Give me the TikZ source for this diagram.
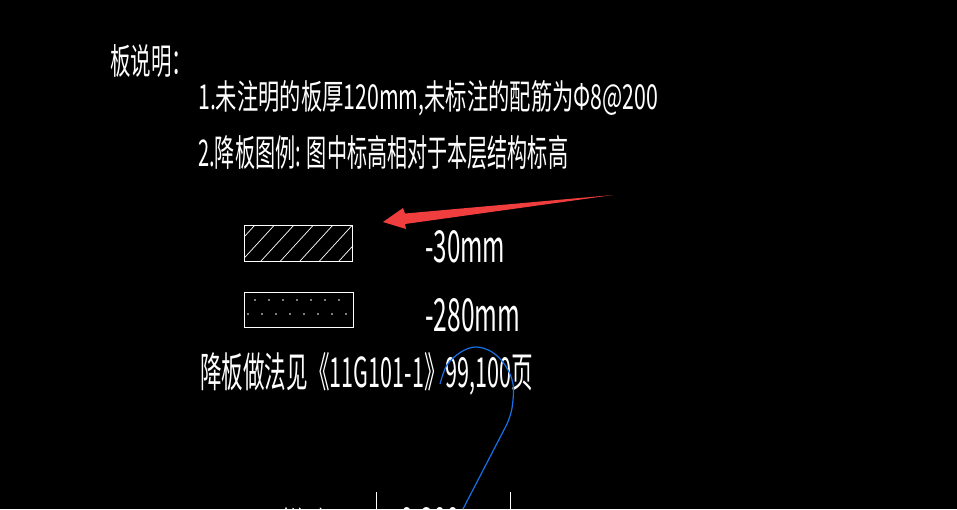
\documentclass[tikz,border=0pt]{standalone}
\usepackage{fontspec}
\usepackage{graphicx}
\newfontfamily\cjk{Noto Sans CJK SC}
\definecolor{arrowred}{RGB}{240,62,62}
\definecolor{curveblue}{RGB}{22,112,232}
\newcommand\fitbox[3]{\resizebox{#1pt}{#2pt}{\cjk #3}}
\tikzset{
  cadtext/.style={text=white, anchor=base west, inner sep=0pt},
  legendbox/.style={draw=white, line width=1pt},
}
\begin{document}
\begin{tikzpicture}[x=1pt,y=-1pt]
\useasboundingbox (0,0) rectangle (957,509);
\fill[black] (0,0) rectangle (957,509);
\clip (0,0) rectangle (957,509);
% texts
\node[cadtext] (title) at (110,74) {\fitbox{82}{30}{板说明：}};
\node[cadtext] (l1) at (198,109) {\fitbox{460}{29}{1.未注明的板厚120mm,未标注的配筋为Φ8@200}};
\node[cadtext] (l2) at (198,166) {\fitbox{370}{31}{2.降板图例: 图中标高相对于本层结构标高}};
\node[cadtext] (v1) at (425,262) {\fitbox{80}{32}{-30mm}};
\node[cadtext] (v2) at (425,331) {\fitbox{95}{33}{-280mm}};
\node[cadtext] (ref) at (200,387) {\fitbox{333}{35}{降板做法见《11G101-1》99,100页}};
% legend box 1 (hatched)
\node[legendbox, minimum width=108pt, minimum height=36pt, inner sep=0pt, anchor=north west] (b1) at (244,225) {};
\begin{scope}
  \clip (b1.north west) rectangle (b1.south east);
  \foreach \i in {0,...,7} {
    \draw[white, line width=0.7pt] ({222+19.5*\i},261) -- ++(33,-36);
  }
\end{scope}
% legend box 2 (dots)
\node[legendbox, minimum width=109pt, minimum height=35pt, inner sep=0pt, anchor=north west] (b2) at (244,292) {};
\foreach \i in {0,...,6} { \fill[white] ({255+14*\i},300) circle (0.8pt); }
\foreach \i in {0,...,7} { \fill[white] ({248+14*\i},314) circle (0.8pt); }
% red arrow
\fill[arrowred] (613,195) -- (405,213.5) -- (403,208) -- (383,222) -- (406,229) -- (405,224) -- cycle;
% blue curve
\draw[curveblue, line width=1.2pt] plot[smooth, tension=0.6] coordinates {(440,384) (447,365) (461,352) (476,347) (492,352) (505,365) (513,384) (512,408) (507,424)} -- (463,509);
% bottom partial table
\draw[white, line width=1pt] (376,492) -- (376,509);
\draw[white, line width=1pt] (510,492) -- (510,509);
\node[cadtext] (b3) at (268,537) {\fitbox{60}{30}{（修改}};
\node[cadtext] (b4) at (400,537) {\fitbox{60}{30}{0.300}};
\end{tikzpicture}
\end{document}
